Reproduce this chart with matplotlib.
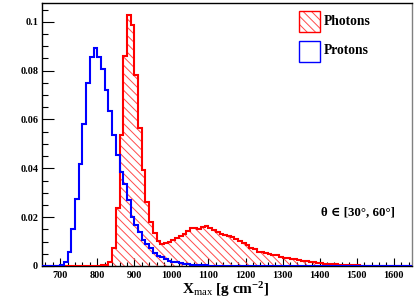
import numpy as np
import matplotlib
matplotlib.use("Agg")
import matplotlib.pyplot as plt
from matplotlib.patches import Rectangle
from matplotlib.ticker import MultipleLocator, FuncFormatter

# ---------------- data ----------------
bin_edges = np.arange(650, 1660, 10)  # 100 bins, 10 g/cm2 wide

protons = [
    0.0, 0.0, 0.0, 0.0, 0.0, 0.0004, 0.0018, 0.0056, 0.0150, 0.0276,          # 650-740
    0.0418, 0.0580, 0.0748, 0.0854, 0.0894, 0.0854, 0.0805, 0.0720, 0.0634, 0.0535,  # 750-840
    0.0454, 0.0383, 0.0334, 0.0270, 0.0200, 0.0168, 0.0138, 0.0106, 0.0089, 0.0072,  # 850-940
    0.0055, 0.0042, 0.0035, 0.0029, 0.0022, 0.0018, 0.0015, 0.0012, 0.0010, 0.0008,  # 950-1040
    0.0006, 0.0005, 0.0004, 0.0003, 0.0003, 0.0002, 0.0002, 0.0001, 0.0001, 0.0001,  # 1050-1140
    0.0001, 0.0, 0.0, 0.0, 0.0, 0.0, 0.0, 0.0, 0.0, 0.0,                      # 1150-1240
    0.0, 0.0, 0.0, 0.0, 0.0, 0.0, 0.0, 0.0, 0.0, 0.0,                         # 1250-1340
    0.0, 0.0, 0.0, 0.0, 0.0, 0.0, 0.0, 0.0, 0.0, 0.0,                         # 1350-1440
    0.0, 0.0, 0.0, 0.0, 0.0, 0.0, 0.0, 0.0, 0.0, 0.0,                         # 1450-1540
    0.0, 0.0, 0.0, 0.0, 0.0, 0.0, 0.0, 0.0, 0.0, 0.0,                         # 1550-1640
]

photons = [
    0.0, 0.0, 0.0, 0.0, 0.0, 0.0, 0.0, 0.0, 0.0, 0.0,                         # 650-740
    0.0, 0.0, 0.0, 0.0, 0.0, 0.0002, 0.0003, 0.0006, 0.0018, 0.0075,          # 750-840
    0.0236, 0.0536, 0.0860, 0.1027, 0.0986, 0.0780, 0.0564, 0.0393, 0.0263, 0.0181,  # 850-940
    0.0134, 0.0104, 0.0089, 0.0093, 0.0100, 0.0106, 0.0113, 0.0124, 0.0132, 0.0144,  # 950-1040
    0.0155, 0.0154, 0.0152, 0.0158, 0.0164, 0.0155, 0.0146, 0.0138, 0.0130, 0.0126,  # 1050-1140
    0.0122, 0.0117, 0.0109, 0.0102, 0.0093, 0.0086, 0.0073, 0.0068, 0.0059, 0.0056,  # 1150-1240
    0.0052, 0.0048, 0.0046, 0.0043, 0.0038, 0.0034, 0.0033, 0.0030, 0.0027, 0.0025,  # 1250-1340
    0.0022, 0.0020, 0.0017, 0.0015, 0.0013, 0.0012, 0.0010, 0.0009, 0.0008, 0.0007,  # 1350-1440
    0.0006, 0.0005, 0.0005, 0.0004, 0.0003, 0.0003, 0.0002, 0.0002, 0.0002, 0.0001,  # 1450-1540
    0.0001, 0.0001, 0.0, 0.0, 0.0, 0.0, 0.0, 0.0, 0.0, 0.0,                   # 1550-1640
]

series_labels = ["Photons", "Protons"]
x_major_ticks = [700, 800, 900, 1000, 1100, 1200, 1300, 1400, 1500, 1600]
y_major_ticks = [0, 0.02, 0.04, 0.06, 0.08, 0.1]
annotation = "\u03b8 \u2208 [30\u00b0, 60\u00b0]"

# ---------------- style ----------------
SERIF = ["Liberation Serif", "DejaVu Serif"]
plt.rcParams["font.family"] = SERIF
plt.rcParams["mathtext.fontset"] = "custom"
plt.rcParams["mathtext.rm"] = "Liberation Serif"
plt.rcParams["mathtext.bf"] = "Liberation Serif:bold"
plt.rcParams["mathtext.it"] = "Liberation Serif:italic"
plt.rcParams["hatch.linewidth"] = 0.7

RED = "#ff0000"
HATCH_RED = "#ff4a4a"
BLUE = "#0000ff"

fig = plt.figure(figsize=(4.17, 2.99), dpi=100)
ax = fig.add_axes([0.100, 0.1104, 0.8887, 0.8806])

# photons: hatched fill + outline
ax.stairs(photons, bin_edges, fill=True, facecolor="none", edgecolor=HATCH_RED,
          hatch="\\\\\\\\", linewidth=0, zorder=2)
ax.stairs(photons, bin_edges, color=RED, linewidth=1.5, zorder=3)
# protons: outline only, on top
ax.stairs(protons, bin_edges, color=BLUE, linewidth=1.5, zorder=4)

ax.set_xlim(650, 1650)
ax.set_ylim(0, 0.1078)

ax.set_xticks(x_major_ticks)
ax.xaxis.set_minor_locator(MultipleLocator(20))
ax.set_yticks(y_major_ticks)
ax.yaxis.set_minor_locator(MultipleLocator(0.005))
ax.yaxis.set_major_formatter(FuncFormatter(lambda v, p: "%g" % round(v, 4)))

ax.tick_params(axis="both", which="both", direction="in", top=False, right=False,
               width=0.8, labelsize=7.3)
ax.tick_params(axis="x", which="major", length=5.8, pad=3.3)
ax.tick_params(axis="x", which="minor", length=2.9)
ax.tick_params(axis="y", which="major", length=8.3, pad=2.5)
ax.tick_params(axis="y", which="minor", length=4.3)
for lbl in ax.get_xticklabels() + ax.get_yticklabels():
    lbl.set_fontweight("bold")

for side in ["left", "bottom", "top"]:
    ax.spines[side].set_linewidth(1.0)
    ax.spines[side].set_color("black")
ax.spines["right"].set_linewidth(1.0)
ax.spines["right"].set_color("#808080")

ax.set_xlabel(r"$\mathbf{X}_{\mathrm{max}}$ [g cm$^{\mathbf{-2}}$]",
              fontsize=11, fontweight="bold", va="center")
ax.xaxis.set_label_coords(0.497, -0.088)

# legend drawn manually (ROOT style)
box_w, box_h = 0.0559, 0.0798
ax.add_patch(Rectangle((0.695, 0.890), box_w, box_h, transform=ax.transAxes,
                       facecolor="white", edgecolor=HATCH_RED, hatch="\\\\\\\\",
                       linewidth=0, zorder=5))
ax.add_patch(Rectangle((0.695, 0.890), box_w, box_h, transform=ax.transAxes,
                       facecolor="none", edgecolor=RED, linewidth=1.0, zorder=6))
ax.add_patch(Rectangle((0.695, 0.776), box_w, box_h, transform=ax.transAxes,
                       facecolor="white", edgecolor=BLUE, linewidth=1.0, zorder=6))
ax.text(0.762, 0.928, series_labels[0], transform=ax.transAxes, fontsize=9.8,
        fontweight="bold", va="center", ha="left")
ax.text(0.762, 0.8186, series_labels[1], transform=ax.transAxes, fontsize=9.8,
        fontweight="bold", va="center", ha="left")

ax.text(0.753, 0.206, annotation, transform=ax.transAxes, fontsize=9.3,
        fontweight="bold", va="center", ha="left", family=SERIF)

fig.savefig("out.png", dpi=100)
